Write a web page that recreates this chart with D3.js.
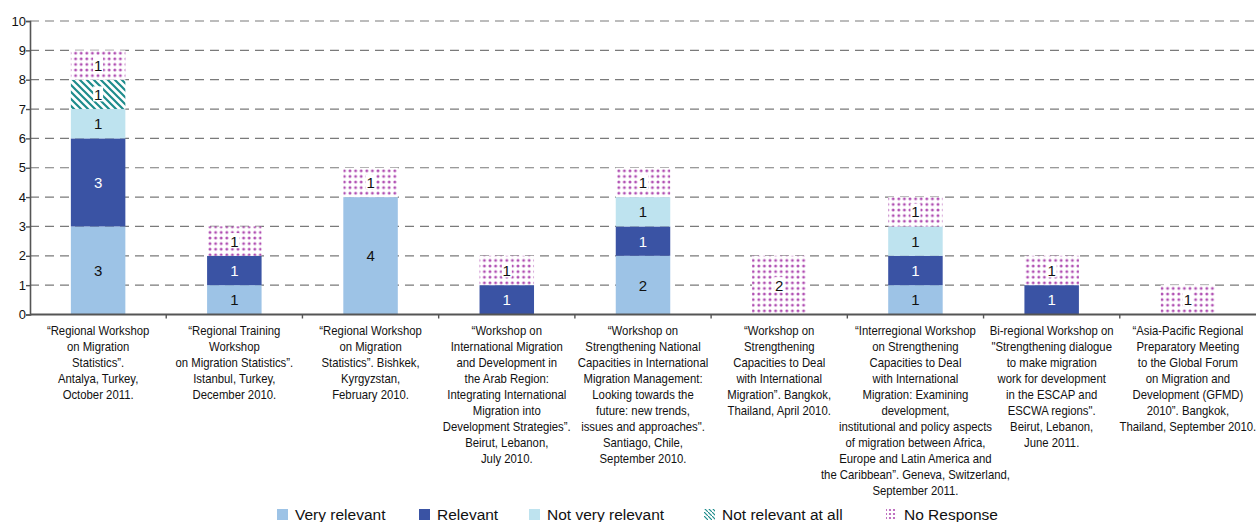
<!DOCTYPE html>
<html><head><meta charset="utf-8">
<script src="https://cdn.jsdelivr.net/npm/d3@7"></script>
<style>body{margin:0;background:#fff;font-family:"Liberation Sans",Arial,sans-serif;}</style>
</head><body>
<svg id="chart" width="1258" height="522"></svg>
<script>
const categories = [
  ["\u201CRegional Workshop","on Migration","Statistics\u201D.","Antalya, Turkey,","October 2011."],
  ["\u201CRegional Training","Workshop","on Migration Statistics\u201D.","Istanbul, Turkey,","December 2010."],
  ["\u201CRegional Workshop","on Migration","Statistics\u201D. Bishkek,","Kyrgyzstan,","February 2010."],
  ["\u201CWorkshop on","International Migration","and Development in","the Arab Region:","Integrating International","Migration into","Development Strategies\u201D.","Beirut, Lebanon,","July 2010."],
  ["\u201CWorkshop on","Strengthening National","Capacities in International","Migration Management:","Looking towards the","future: new trends,","issues and approaches\".","Santiago, Chile,","September 2010."],
  ["\u201CWorkshop on","Strengthening","Capacities to Deal","with International","Migration\u201D. Bangkok,","Thailand, April 2010."],
  ["\u201CInterregional Workshop","on Strengthening","Capacities to Deal","with International","Migration: Examining","development,","institutional and policy aspects","of migration between Africa,","Europe and Latin America and","the Caribbean\u201D. Geneva, Switzerland,","September 2011."],
  ["Bi-regional Workshop on","\"Strengthening dialogue","to make migration","work for development","in the ESCAP and","ESCWA regions\".","Beirut, Lebanon,","June 2011."],
  ["\u201CAsia-Pacific Regional","Preparatory Meeting","to the Global Forum","on Migration and","Development (GFMD)","2010\u201D. Bangkok,","Thailand, September 2010."]
];
const seriesNames = ["Very relevant","Relevant","Not very relevant","Not relevant at all","No Response"];
const veryRelevant    = [3,1,4,0,2,0,1,0,0];
const relevant        = [3,1,0,1,1,0,1,1,0];
const notVeryRelevant = [1,0,0,0,1,0,1,0,0];
const notRelevantAll  = [1,0,0,0,0,0,0,0,0];
const noResponse      = [1,1,1,1,1,2,1,1,1];
const yTicks = [0,1,2,3,4,5,6,7,8,9,10];

(function(){
const svg = d3.select("#chart");
const defs = svg.append("defs");
const hatch = defs.append("pattern").attr("id","hatch").attr("patternUnits","userSpaceOnUse")
  .attr("width",7).attr("height",7);
hatch.append("rect").attr("width",7).attr("height",7).attr("fill","#fff");
hatch.append("path").attr("d","M-1,-1 L8,8 M-1,6 L1,8 M6,-1 L8,1").attr("stroke","#1E8C8C").attr("stroke-width",2.2);
const dots = defs.append("pattern").attr("id","dots").attr("patternUnits","userSpaceOnUse")
  .attr("width",5.6).attr("height",5.6);
dots.append("rect").attr("width",5.6).attr("height",5.6).attr("fill","#fff");
dots.append("circle").attr("cx",2.8).attr("cy",2.8).attr("r",1.45).attr("fill","#B04EB2");

const fills = ["#9DC3E6","#3A53A4","#BEE3EF","url(#hatch)","url(#dots)"];
const legendFills = ["#9DC3E6","#3A53A4","#BEE3EF","url(#hatchL)","url(#dotsL)"];
const textColors = ["#111","#fff","#111","#111","#111"];

const mLeft = 30, mRight = 1256, mTop = 21, mBottom = 314.5;
const x = d3.scaleBand().domain(d3.range(categories.length)).range([mLeft,mRight]).paddingInner(0.6).paddingOuter(0.3);
const xb = d3.scaleBand().domain(d3.range(categories.length)).range([mLeft,mRight]);
const y = d3.scaleLinear().domain([0,10]).range([mBottom,mTop]);

svg.append("g").selectAll("line").data(yTicks.filter(d=>d>0)).join("line")
  .attr("x1",mLeft).attr("x2",mRight).attr("y1",d=>y(d)).attr("y2",d=>y(d))
  .attr("stroke","#7a7a7a").attr("stroke-width",1.2).attr("stroke-dasharray","9,6");

const stackData = categories.map((c,i)=>{
  const v=[veryRelevant[i],relevant[i],notVeryRelevant[i],notRelevantAll[i],noResponse[i]];
  const o={i}; seriesNames.forEach((s,k)=>o[s]=v[k]); return o;});
const stacked = d3.stack().keys(seriesNames)(stackData);

const gBars = svg.append("g");
stacked.forEach((layer,k)=>{
  layer.forEach(seg=>{
    const val = seg[1]-seg[0];
    if(val<=0) return;
    const i = seg.data.i;
    gBars.append("rect").attr("x",x(i)).attr("width",x.bandwidth())
      .attr("y",y(seg[1])).attr("height",y(seg[0])-y(seg[1])).attr("fill",fills[k]);
  });
});
stacked.forEach((layer,k)=>{
  layer.forEach(seg=>{
    const val = seg[1]-seg[0];
    if(val<=0) return;
    const i = seg.data.i;
    const cx = x(i)+x.bandwidth()/2, cy = (y(seg[0])+y(seg[1]))/2;
    if(k>=3){
      gBars.append("rect").attr("x",cx-5).attr("y",cy-8).attr("width",10).attr("height",15).attr("fill","#fff");
    }
    gBars.append("text").attr("x",cx).attr("y",cy+5.5).attr("text-anchor","middle")
      .attr("font-size",15).attr("fill",textColors[k]).text(val);
  });
});

const yAxis = svg.append("g").attr("transform",`translate(${mLeft},0)`)
  .call(d3.axisLeft(y).tickValues(yTicks).tickSize(4).tickFormat(d3.format("d")));
yAxis.select(".domain").attr("stroke","#555").attr("stroke-width",1.6);
yAxis.selectAll(".tick line").attr("stroke","#555").attr("stroke-width",1.4);
yAxis.selectAll("text").attr("font-size",13).attr("fill","#111").attr("x",-4).attr("font-family","Liberation Sans, Arial, sans-serif");

svg.append("line").attr("x1",mLeft).attr("x2",mRight).attr("y1",mBottom).attr("y2",mBottom).attr("stroke","#555").attr("stroke-width",2);
svg.append("g").selectAll("line").data(d3.range(1,categories.length)).join("line")
  .attr("x1",d=>xb(d)).attr("x2",d=>xb(d)).attr("y1",mBottom).attr("y2",mBottom+4).attr("stroke","#555").attr("stroke-width",1.4);

const gl = svg.append("g");
categories.forEach((lines,i)=>{
  const t = gl.append("text").attr("text-anchor","middle").attr("font-size",12.2)
    .attr("transform",`translate(${xb(i)+xb.bandwidth()/2},0) scale(0.93,1)`).attr("fill","#111");
  lines.forEach((ln,j)=>{
    t.append("tspan").attr("x",0).attr("y",335+j*16).text(ln);
  });
});

const hL = defs.append("pattern").attr("id","hatchL").attr("patternUnits","userSpaceOnUse").attr("width",4).attr("height",4);
hL.append("rect").attr("width",4).attr("height",4).attr("fill","#fff");
hL.append("path").attr("d","M-1,-1 L5,5").attr("stroke","#1E8C8C").attr("stroke-width",1.2);
const dL = defs.append("pattern").attr("id","dotsL").attr("patternUnits","userSpaceOnUse").attr("width",4).attr("height",4);
dL.append("rect").attr("width",4).attr("height",4).attr("fill","#fff");
dL.append("circle").attr("cx",2).attr("cy",2).attr("r",1.1).attr("fill","#B04EB2");

const legendX = [277,419,529,704,886];
const lg = svg.append("g");
seriesNames.forEach((s,k)=>{
  lg.append("rect").attr("x",legendX[k]).attr("y",509).attr("width",11).attr("height",11).attr("fill",legendFills[k]);
  lg.append("text").attr("x",legendX[k]+18).attr("y",520).attr("font-size",15.5).attr("fill","#111").text(s);
});
})();
</script>
</body></html>
